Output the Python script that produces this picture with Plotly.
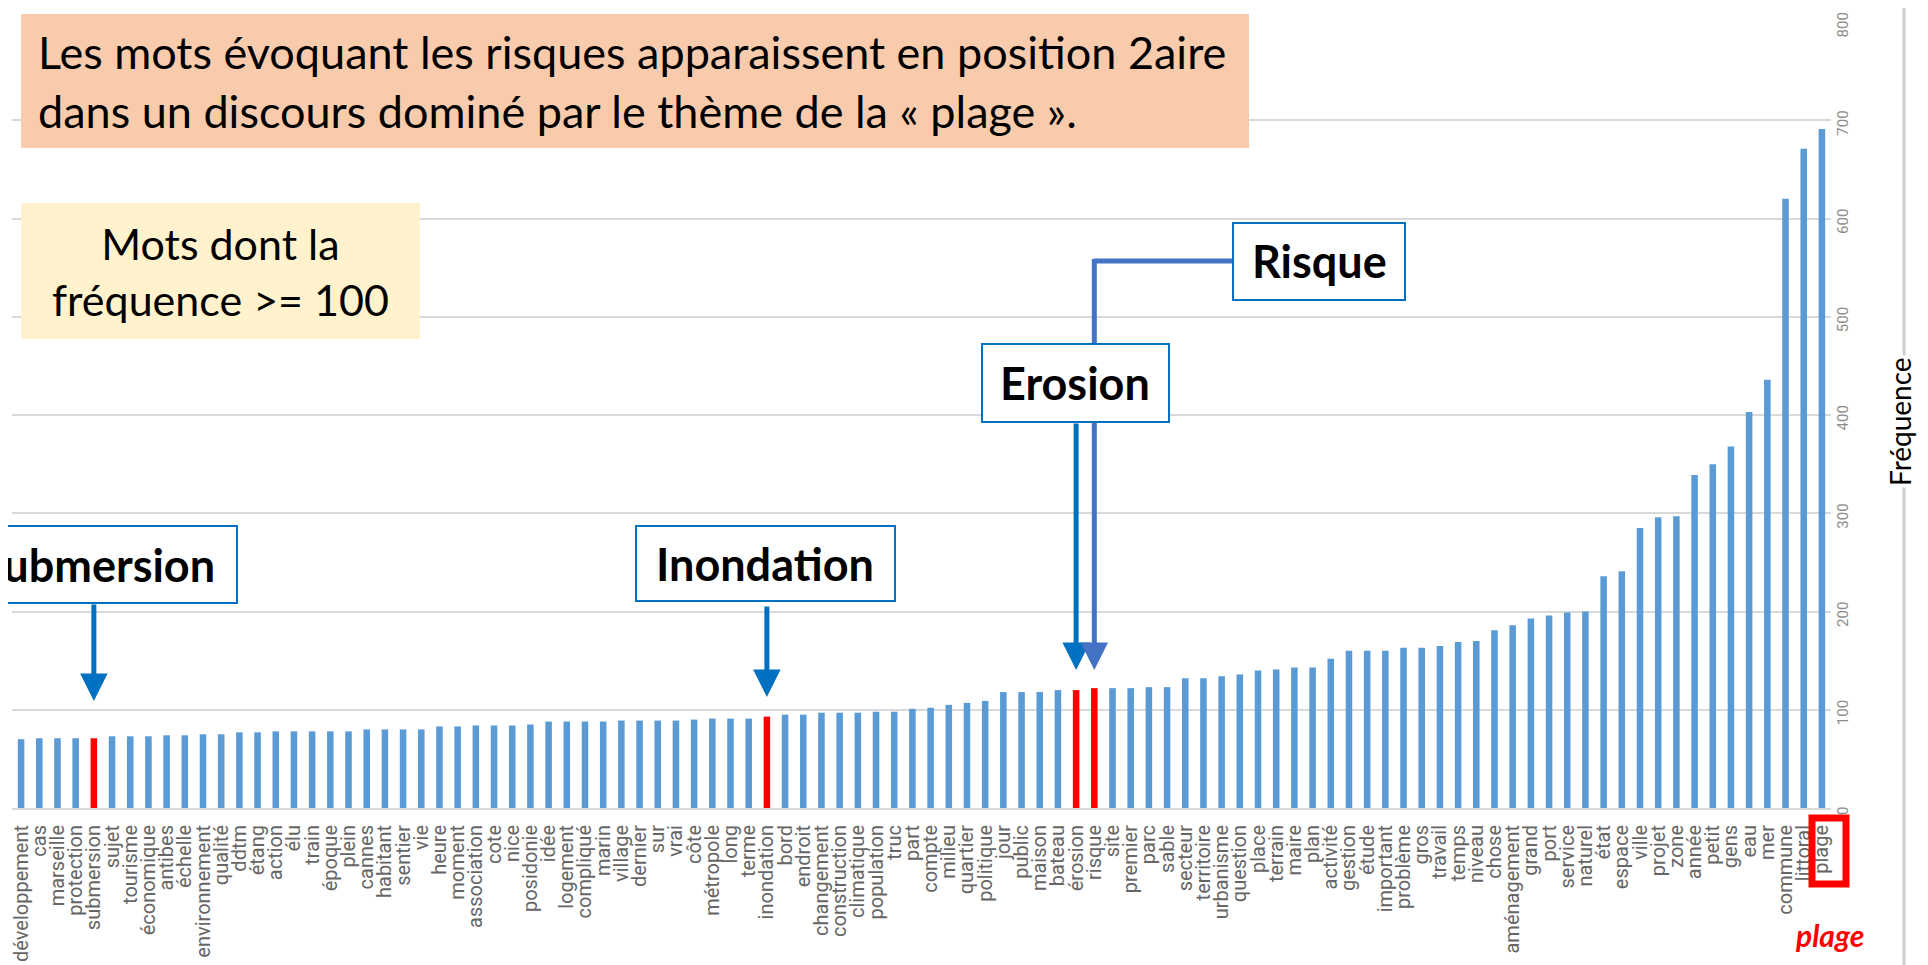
import plotly.graph_objects as go

words = ["développement", "cas", "marseille", "protection", "submersion", "sujet", "tourisme",
         "économique", "antibes", "échelle", "environnement", "qualité", "ddtm", "étang", "action",
         "élu", "train", "époque", "plein", "cannes", "habitant", "sentier", "vie", "heure", "moment",
         "association", "cote", "nice", "posidonie", "idée", "logement", "compliqué", "marin",
         "village", "dernier", "sur", "vrai", "côte", "métropole", "long", "terme", "inondation",
         "bord", "endroit", "changement", "construction", "climatique", "population", "truc", "part",
         "compte", "milieu", "quartier", "politique", "jour", "public", "maison", "bateau", "érosion",
         "risque", "site", "premier", "parc", "sable", "secteur", "territoire", "urbanisme",
         "question", "place", "terrain", "maire", "plan", "activité", "gestion", "étude", "important",
         "problème", "gros", "travail", "temps", "niveau", "chose", "aménagement", "grand", "port",
         "service", "naturel", "état", "espace", "ville", "projet", "zone", "année", "petit", "gens",
         "eau", "mer", "commune", "littoral", "plage"]

freq = [70, 71, 71, 71, 71, 73, 73, 73, 74, 74,
        75, 75, 77, 77, 78, 78, 78, 78, 78, 80,
        80, 80, 80, 83, 83, 84, 84, 84, 85, 88,
        88, 88, 88, 89, 89, 89, 89, 90, 91, 91,
        91, 93, 95, 95, 97, 97, 97, 98, 98, 101,
        102, 105, 107, 109, 118, 118, 118, 120, 120, 122,
        122, 122, 123, 123, 132, 132, 134, 136, 140, 141,
        143, 143, 152, 160, 160, 160, 163, 163, 165, 169,
        170, 181, 186, 193, 196, 199, 200, 236, 241, 285,
        296, 297, 339, 350, 368, 403, 436, 620, 671, 691]

risk_words = ["submersion", "inondation", "érosion", "risque"]
y_ticks = [0, 100, 200, 300, 400, 500, 600, 700, 800]

BLUE = "#5b9bd5"
RED = "#ff0000"
colors = [RED if w in risk_words else BLUE for w in words]

# page geometry (the page body adds an 8px offset)
OFF = 8
PAGE_W, PAGE_H = 1928, 965
W, H = PAGE_W - OFF, PAGE_H - OFF
PL, PR, PT, PB = 12, 1831, 22, 808   # plot area in page pixels


def px(x):
    return (x - PL) / (PR - PL)


def py(y):
    return (PB - y) / (PB - PT)


fig = go.Figure(go.Bar(x=words, y=freq, marker=dict(color=colors, line=dict(width=0))))

TXT = "Lato, Open Sans, sans-serif"
TICKF = "Liberation Sans Narrow, Arial Narrow, Roboto, sans-serif"

shapes = []
annotations = []

# Right border line (slide frame)
shapes.append(dict(type="line", xref="paper", yref="paper", x0=px(1904), x1=px(1904), y0=py(PAGE_H + 5),
                   y1=py(OFF - 5), line=dict(color="#cfcfcf", width=3), layer="above"))

# Top salmon box
shapes.append(dict(type="rect", xref="paper", yref="paper", x0=px(21), x1=px(1249), y0=py(148), y1=py(14),
                   fillcolor="#f8cbad", line=dict(width=0), layer="above"))
annotations.append(dict(xref="paper", yref="paper", x=px(36), y=py(81), xanchor="left", yanchor="middle",
                        align="left", showarrow=False,
                        text="Les mots évoquant les risques apparaissent en position 2aire<br>"
                             "dans un discours dominé par le thème de la « plage ».",
                        font=dict(family=TXT, size=45, color="#000000")))
# Yellow box
shapes.append(dict(type="rect", xref="paper", yref="paper", x0=px(21), x1=px(420), y0=py(339), y1=py(203),
                   fillcolor="#fff2cc", line=dict(width=0), layer="above"))
annotations.append(dict(xref="paper", yref="paper", x=px(220), y=py(271), xanchor="center", yanchor="middle",
                        align="center", showarrow=False, text="Mots dont la<br>fréquence >= 100",
                        font=dict(family=TXT, size=43, color="#000000")))

ri = words.index("risque")
# Risque connector (drawn before the Erosion box so that the box hides it)
shapes.append(dict(type="line", xref="x", yref="paper", x0=ri - 0.02, x1=66.6, y0=py(261), y1=py(261),
                   line=dict(color="#4472c4", width=5), layer="above"))
shapes.append(dict(type="line", xref="x", yref="paper", x0=ri, x1=ri, y0=py(430), y1=py(259),
                   line=dict(color="#4472c4", width=5), layer="above"))

# Label boxes (left, right, top, bottom, text center x)
boxes = [("Submersion", -60, 237, 526, 603, 97),
         ("Inondation", 636, 895, 526, 601, 765),
         ("Erosion", 982, 1169, 344, 422, 1075),
         ("Risque", 1233, 1405, 223, 300, 1319)]
for txt, x0, x1, y0, y1, cx in boxes:
    shapes.append(dict(type="rect", xref="paper", yref="paper", x0=px(x0), x1=px(x1), y0=py(y1), y1=py(y0),
                       fillcolor="#ffffff", line=dict(color="#0070c0", width=2), layer="above"))
    annotations.append(dict(xref="paper", yref="paper", x=px(cx), y=py((y0 + y1) / 2), xanchor="center",
                            yanchor="middle", showarrow=False, text="<b>%s</b>" % txt,
                            font=dict(family=TXT, size=45, color="#000000")))

# Arrows: (word, tip y pixel, tail y pixel, color)
arrows = [("submersion", 701, 603, "#0070c0"),
          ("inondation", 697, 605, "#0070c0"),
          ("érosion", 670, 422, "#0070c0"),
          ("risque", 670, 428, "#4472c4")]
for w, tip, tail, col in arrows:
    idx = words.index(w)
    annotations.append(dict(xref="x", yref="paper", x=idx, y=py(tip), ax=0, ay=-(tip - tail),
                            axref="pixel", ayref="pixel", text="", showarrow=True,
                            arrowhead=2, arrowsize=1.1, arrowwidth=5, arrowcolor=col, standoff=0))

# Y-axis title (its white background hides the frame line)
annotations.append(dict(xref="paper", yref="paper", x=px(1900), y=py(422), xanchor="center", yanchor="middle",
                        textangle=-90, showarrow=False, text="Fréquence", bgcolor="#ffffff",
                        font=dict(family=TXT, size=28, color="#000000")))

# Red highlight around 'plage' tick label
shapes.append(dict(type="rect", xref="paper", yref="paper", x0=px(1812), x1=px(1846), y0=py(884), y1=py(818),
                   line=dict(color="#ff0000", width=7), fillcolor="rgba(0,0,0,0)", layer="above"))
annotations.append(dict(xref="paper", yref="paper", x=px(1829), y=py(935), xanchor="center", yanchor="middle",
                        showarrow=False, text="<b><i>plage</i></b>",
                        font=dict(family=TXT, size=30, color="#ff0000")))

fig.update_layout(
    width=W, height=H,
    margin=dict(l=PL - OFF, r=PAGE_W - PR, t=PT - OFF, b=PAGE_H - PB, pad=0, autoexpand=False),
    paper_bgcolor="#ffffff", plot_bgcolor="#ffffff",
    bargap=0.64, showlegend=False,
    shapes=shapes, annotations=annotations,
    xaxis=dict(type="category", tickmode="linear", dtick=1, tick0=0, tickangle=-90,
               tickfont=dict(family=TICKF, size=20, color="#666666"),
               showline=True, linecolor="#d9d9d9", linewidth=2, showgrid=False, ticks="",
               ticklabelstandoff=7, automargin=False, fixedrange=True),
    yaxis=dict(side="right", range=[0, 800], tickvals=y_ticks, tickangle=-90,
               tickfont=dict(family=TICKF, size=15, color="#8c8c8c"), showgrid=True,
               gridcolor="#d9d9d9", gridwidth=2, zeroline=False, showline=False, ticks="",
               ticklabelstandoff=1, ticklabelshift=5, ticklabeloverflow="allow",
               automargin=False, fixedrange=True),
)

fig.write_html("out.html")
